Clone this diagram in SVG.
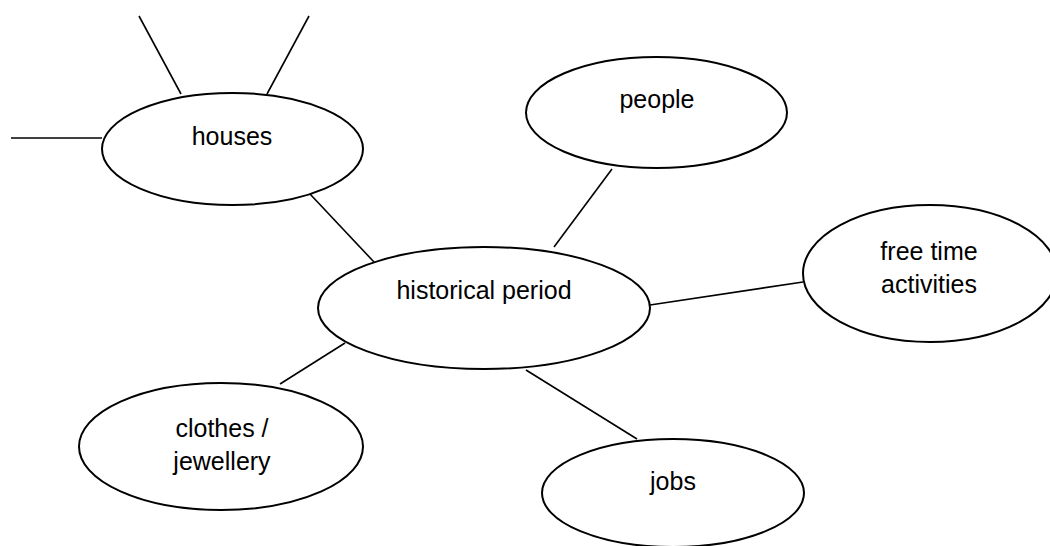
<svg xmlns="http://www.w3.org/2000/svg" width="1050" height="546" viewBox="0 0 1050 546">
<style>
.n{fill:#fff;stroke:#000;stroke-width:2}
.c line{stroke:#000;stroke-width:1.6}
text{font-family:"Liberation Sans",Arial,sans-serif;font-size:25px;fill:#000;text-anchor:middle}
</style>
<rect width="1050" height="546" fill="#fff"/>
<g class="c" id="connectors">
<line x1="139" y1="16" x2="181" y2="94"/>
<line x1="309" y1="16" x2="267" y2="94"/>
<line x1="11" y1="138" x2="102" y2="138"/>
<line x1="310" y1="194" x2="374" y2="262"/>
<line x1="612" y1="169" x2="554" y2="247"/>
<line x1="650" y1="305" x2="803" y2="282"/>
<line x1="345" y1="343" x2="280" y2="384"/>
<line x1="526" y1="370" x2="637" y2="439"/>
</g>
<g id="houses"><ellipse class="n" cx="232.5" cy="149" rx="130.5" ry="56"/><text x="232" y="145">houses</text></g>
<g id="people"><ellipse class="n" cx="656.5" cy="112.5" rx="130.5" ry="55.5"/><text x="657" y="108">people</text></g>
<g id="historical-period"><ellipse class="n" cx="484" cy="308" rx="166" ry="61"/><text x="484" y="299">historical period</text></g>
<g id="free-time-activities"><ellipse class="n" cx="930" cy="273.5" rx="127" ry="68.5"/><text x="929" y="260">free time</text><text x="929" y="293">activities</text></g>
<g id="clothes-jewellery"><ellipse class="n" cx="221" cy="446.5" rx="142" ry="63.5"/><text x="222" y="437">clothes /</text><text x="222" y="470">jewellery</text></g>
<g id="jobs"><ellipse class="n" cx="673" cy="493" rx="131" ry="54"/><text x="673" y="490">jobs</text></g>
</svg>
